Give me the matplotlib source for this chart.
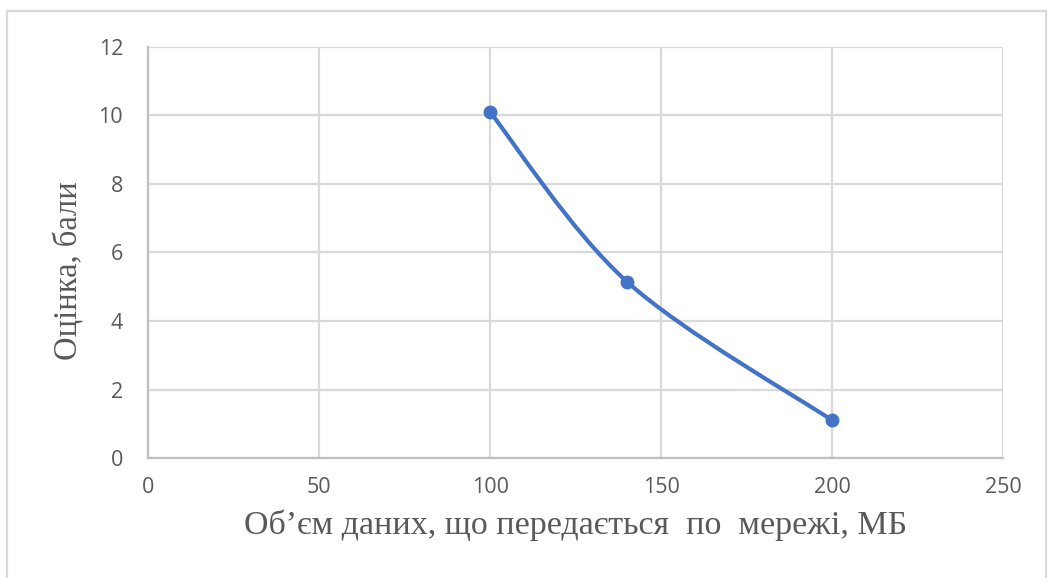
import matplotlib.pyplot as plt
from matplotlib.path import Path
from matplotlib.patches import PathPatch, Rectangle
import numpy as np

# data
obsyag = [100, 140, 200]        # МБ
otsinka = [10.1, 5.15, 1.1]     # бали
x_ticks = [0, 50, 100, 150, 200, 250]
y_ticks = [0, 2, 4, 6, 8, 10, 12]

BLUE = "#4472C4"
GRID = "#D9D9D9"
TXT = "#595959"

fig = plt.figure(figsize=(10.53, 5.78), dpi=100)
ax = fig.add_axes([0.1406, 0.2076, 0.812, 0.7111])

# smooth line like Excel (bezier with 1/6 tension)
pts = np.column_stack([obsyag, otsinka]).astype(float)
verts = [pts[0]]
codes = [Path.MOVETO]
n = len(pts)
for i in range(n - 1):
    p0 = pts[i - 1] if i > 0 else pts[i]
    p1 = pts[i]
    p2 = pts[i + 1]
    p3 = pts[i + 2] if i + 2 < n else pts[i + 1]
    c1 = p1 + (p2 - p0) / 6
    c2 = p2 - (p3 - p1) / 6
    verts += [c1, c2, p2]
    codes += [Path.CURVE4] * 3
ax.add_patch(PathPatch(Path(verts, codes), fill=False, edgecolor=BLUE,
                       lw=3.0, capstyle='round', zorder=3))
ax.plot(obsyag, otsinka, 'o', color=BLUE, ms=9, zorder=4)

ax.set_xlim(0, 250)
ax.set_ylim(0, 12)
ax.set_xticks(x_ticks)
ax.set_yticks(y_ticks)
ax.grid(True, color=GRID, lw=1.6)
ax.set_axisbelow(True)
for s in ['top', 'right']:
    ax.spines[s].set_visible(False)
for s in ['left', 'bottom']:
    ax.spines[s].set_color("#BFBFBF")
    ax.spines[s].set_linewidth(1.6)
ax.tick_params(length=0, labelcolor=TXT)
ax.tick_params(axis='x', pad=14)
ax.tick_params(axis='y', pad=18)
for lab in ax.get_xticklabels() + ax.get_yticklabels():
    lab.set_fontfamily("Open Sans")
    lab.set_fontsize(15.5)

ax.set_xlabel("Об’єм даних, що передається  по  мережі, МБ",
              fontfamily="Liberation Serif", fontsize=24.5, color=TXT, labelpad=8)
ax.set_ylabel("Оцінка, бали", fontfamily="Liberation Serif", fontsize=23.5,
              color=TXT)
ax.yaxis.set_label_coords(-0.074, 0.457)

# chart border
fig.patches.append(Rectangle((7 / 1053, -0.05), 1039 / 1053, 1.05 - 11 / 578,
                             transform=fig.transFigure, fill=False,
                             edgecolor=GRID, lw=1.6))

fig.savefig("out.png", dpi=100)
